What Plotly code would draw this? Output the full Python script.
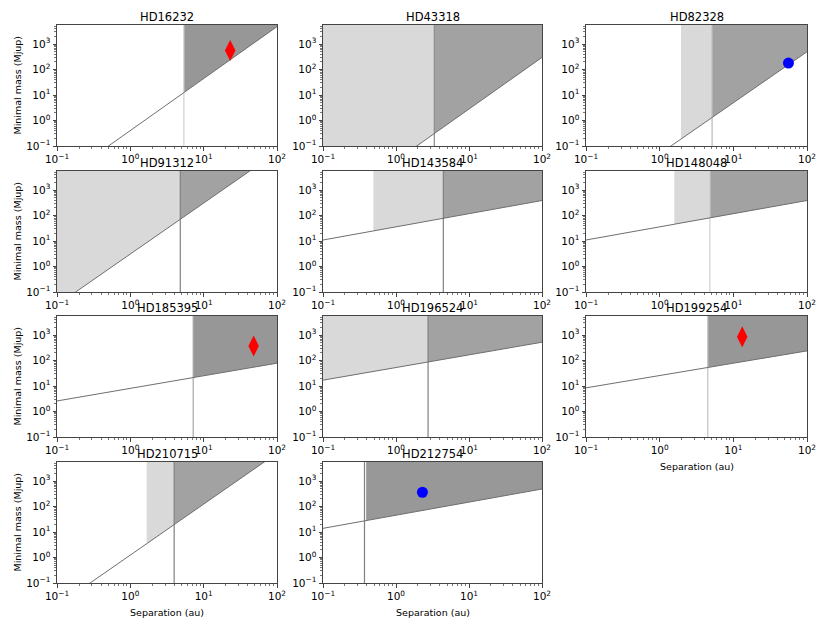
import plotly.graph_objects as go
from plotly.subplots import make_subplots

# star names, one panel each
stars = ['HD16232', 'HD43318', 'HD82328', 'HD91312', 'HD143584', 'HD148048',
         'HD185395', 'HD196524', 'HD199254', 'HD210715', 'HD212754']

# detection limit line (Mjup) at separation 0.1 au and 100 au
limit_at_01 = [0.0037, 0.00025, 0.00049, 0.031, 11, 11, 2.6, 17, 8.5, 0.0125, 14]
limit_at_100 = [4850, 300, 500, 31000, 390, 390, 79, 525, 240, 12500, 490]

# light zone start and boundary (au) between light / dark zones
light_start = [5.37, 0.05, 1.95, 0.05, 0.49, 1.58, 7.2, 0.05, 4.5, 1.67, 0.39]
zone_edge = [5.37, 3.35, 5.15, 4.8, 4.45, 4.8, 7.2, 2.75, 4.5, 3.96, 0.37]
dark_start = [5.37, 3.35, 5.15, 4.8, 4.45, 4.8, 7.2, 2.75, 4.5, 3.96, 0.39]

# known companions: (star index, separation au, mass Mjup, kind)
comp_star = [0, 2, 6, 8, 10]
comp_sep = [23, 56, 48, 13.2, 2.3]
comp_mass = [560, 180, 370, 870, 365]
comp_kind = ['diamond', 'circle', 'diamond', 'diamond', 'circle']

x_ticks = [0.1, 1, 10, 100]
x_ticktext = ['10<sup>\u22121</sup>', '10<sup>0</sup>', '10<sup>1</sup>', '10<sup>2</sup>']
y_ticks = [0.1, 1, 10, 100, 1000]
y_ticktext = ['10<sup>\u22121</sup>', '10<sup>0</sup>', '10<sup>1</sup>', '10<sup>2</sup>', '10<sup>3</sup>']

X_LO, X_HI = 0.1, 100.0
Y_LO, Y_TOP = 0.1, 10 ** 3.75

W, H = 830, 631
col_px = [(57, 277), (323, 542), (586, 807)]
row_px = [(25, 146), (171, 292), (316, 437), (462, 583)]

dark_fill = ['#979797', '#a2a2a2', '#a2a2a2', '#a2a2a2', '#a2a2a2', '#a2a2a2',
             '#979797', '#a2a2a2', '#979797', '#a2a2a2', '#989898']
vline_col = ['#d0d0d0', '#8c8c8c', '#b8b8b8', '#808080', '#808080', '#d0d0d0',
             '#a8a8a8', '#808080', '#c0c0c0', '#808080', '#808080']


def limit(i, x):
    # power law between the two read endpoints (straight on log-log)
    import math
    l0, l1 = math.log10(limit_at_01[i]), math.log10(limit_at_100[i])
    t = (math.log10(x) - math.log10(X_LO)) / (math.log10(X_HI) - math.log10(X_LO))
    return 10 ** (l0 + t * (l1 - l0))


fig = make_subplots(rows=4, cols=3)

minor_x = [m * 10 ** e for e in range(-1, 2) for m in range(2, 10)]
minor_y = [m * 10 ** e for e in range(-1, 4) for m in range(2, 10)]

for i, name in enumerate(stars):
    r, c = i // 3 + 1, i % 3 + 1

    # light zone
    a1, a2 = light_start[i], zone_edge[i]
    if a2 > a1:
        fig.add_trace(go.Scatter(
            x=[a1, a2, a2, a1, a1],
            y=[limit(i, a1), limit(i, a2), Y_TOP * 2, Y_TOP * 2, limit(i, a1)],
            mode='lines', fill='toself', fillcolor='#d9d9d9',
            line=dict(width=0), hoverinfo='skip', showlegend=False), row=r, col=c)

    # dark zone
    d = dark_start[i]
    fig.add_trace(go.Scatter(
        x=[d, X_HI, X_HI, d, d],
        y=[limit(i, d), limit_at_100[i], Y_TOP * 2, Y_TOP * 2, limit(i, d)],
        mode='lines', fill='toself', fillcolor=dark_fill[i],
        line=dict(width=0), hoverinfo='skip', showlegend=False), row=r, col=c)

    # vertical boundary
    fig.add_trace(go.Scatter(
        x=[zone_edge[i], zone_edge[i]], y=[Y_LO, Y_TOP * 2],
        mode='lines', line=dict(color=vline_col[i], width=1.2),
        hoverinfo='skip', showlegend=False), row=r, col=c)

    # detection limit
    fig.add_trace(go.Scatter(
        x=[X_LO, X_HI], y=[limit_at_01[i], limit_at_100[i]],
        mode='lines', line=dict(color='#6e6e6e', width=1),
        hoverinfo='skip', showlegend=False), row=r, col=c)

for k, s in enumerate(comp_star):
    r, c = s // 3 + 1, s % 3 + 1
    if comp_kind[k] == 'diamond':
        mk = dict(symbol='diamond-tall', size=15, color='#ff0000')
    else:
        mk = dict(symbol='circle', size=11, color='#0000ff')
    fig.add_trace(go.Scatter(
        x=[comp_sep[k]], y=[comp_mass[k]], mode='markers', marker=mk,
        showlegend=False), row=r, col=c)

axis_common = dict(
    type='log', showgrid=False, zeroline=False, automargin=False,
    showline=True, linecolor='#444444', linewidth=1, mirror=True,
    ticks='outside', ticklen=3.5, tickwidth=0.8, tickcolor='#444444',
    tickfont=dict(size=10.5, color='black', family='DejaVu Sans'),
)

annotations = []
for n in range(12):
    r, c = n // 3, n % 3
    xd = [col_px[c][0] / W, col_px[c][1] / W]
    yd = [1 - row_px[r][1] / H, 1 - row_px[r][0] / H]
    xa = 'xaxis' if n == 0 else 'xaxis%d' % (n + 1)
    ya = 'yaxis' if n == 0 else 'yaxis%d' % (n + 1)
    if n >= len(stars):
        fig.layout[xa].update(visible=False, domain=xd, automargin=False)
        fig.layout[ya].update(visible=False, domain=yd, automargin=False)
        continue
    fig.layout[xa].update(
        domain=xd, range=[-1, 2], tickvals=x_ticks, ticktext=x_ticktext,
        minor=dict(ticks='outside', ticklen=2, tickwidth=0.6, tickcolor='#777777',
                   tickvals=minor_x),
        **axis_common)
    fig.layout[ya].update(
        domain=yd, range=[-1, 3.75], tickvals=y_ticks, ticktext=y_ticktext,
        minor=dict(ticks='outside', ticklen=2, tickwidth=0.6, tickcolor='#777777',
                   tickvals=minor_y),
        **axis_common)
    annotations.append(dict(
        text=stars[n], x=(xd[0] + xd[1]) / 2, y=yd[1], xref='paper', yref='paper',
        xanchor='center', yanchor='bottom', yshift=-1, showarrow=False,
        font=dict(size=11.5, color='black', family='DejaVu Sans')))
    if c == 0:
        annotations.append(dict(
            text='Minimal mass (Mjup)', x=17 / W, y=(yd[0] + yd[1]) / 2,
            xref='paper', yref='paper', xanchor='center', yanchor='middle',
            textangle=-90, showarrow=False,
            font=dict(size=9.5, color='black', family='DejaVu Sans')))
    if n >= 8:
        annotations.append(dict(
            text='Separation (au)', x=(xd[0] + xd[1]) / 2, y=yd[0],
            xref='paper', yref='paper', xanchor='center', yanchor='top',
            yshift=-22, showarrow=False,
            font=dict(size=9.5, color='black', family='DejaVu Sans')))

fig.update_layout(
    width=W, height=H, margin=dict(l=0, r=0, t=0, b=0),
    paper_bgcolor='white', plot_bgcolor='white',
    annotations=annotations, showlegend=False,
)

# drop the default page margin so the figure sits at the window's corner
fig.write_html("out.html", config={'displayModeBar': False},
               post_script="document.body.style.margin='0px';")
